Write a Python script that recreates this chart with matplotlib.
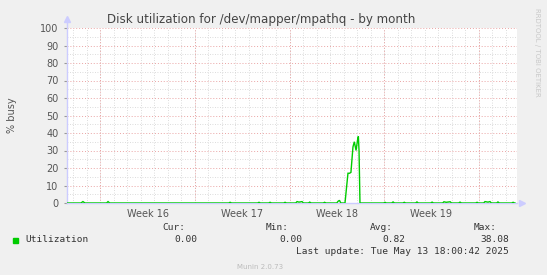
import numpy as np
import matplotlib
matplotlib.use("Agg")
import matplotlib.pyplot as plt

# time in days, 0 = start of week 16 (Monday)
day = [-2.48, -1.45, -1.3, -1.15, 0.45, 0.56, 0.68, 9.5, 9.6, 9.7, 11.64, 11.74, 11.84,
       12.46, 12.56, 12.66, 13.57, 13.67, 13.77, 14.46, 14.56, 14.7, 14.93, 15.03,
       15.4, 15.5, 15.6, 16.5, 16.6, 16.7, 17.5, 17.6, 17.7, 17.8, 18.11, 18.33, 18.45,
       18.55, 18.7, 18.8, 18.93, 19.04, 19.1, 19.15, 19.22, 20.97, 21.07, 21.17,
       21.57, 21.67, 21.77, 22.4, 22.5, 22.6, 23.34, 23.44, 23.54, 24.46, 24.56, 24.66,
       25.34, 25.44, 25.6, 25.9, 26.0, 26.53, 26.63, 26.73, 27.79, 27.89, 27.99,
       28.38, 28.48, 28.7, 28.85, 28.95, 29.34, 29.44, 29.54, 30.46, 30.56, 30.66, 30.7]
util = [0, 0, 0.8, 0, 0, 0.8, 0, 0, 0.4, 0, 0, 0.4, 0,
        0, 0.4, 0, 0, 0.4, 0, 0, 0.8, 0.5, 0.8, 0,
        0, 0.5, 0, 0, 0.4, 0, 0, 1.0, 1.5, 0, 0, 17, 17,
        17.5, 32, 35, 30, 36, 38.08, 30, 0, 0, 0.4, 0,
        0, 0.6, 0, 0, 0.4, 0, 0, 0.6, 0, 0, 0.5, 0,
        0, 0.7, 0.4, 0.7, 0, 0, 0.5, 0, 0, 0.4, 0,
        0, 0.8, 0.5, 0.8, 0, 0, 0.6, 0, 0, 0.4, 0, 0]

week_pos = [3.5, 10.5, 17.5, 24.5]
week_labels = ["Week 16", "Week 17", "Week 18", "Week 19"]
stats_head = ["Cur:", "Min:", "Avg:", "Max:"]
stats_vals = ["0.00", "0.00", "0.82", "38.08"]

W, H = 547, 275
fig = plt.figure(figsize=(W / 100, H / 100), dpi=100, facecolor="#f0f0f0")
ax = fig.add_axes([67 / W, (H - 203) / H, 450 / W, 175 / H])
ax.set_facecolor("white")
xmin, xmax = -2.48, 30.85
ax.set_xlim(xmin, xmax)
ax.set_ylim(0, 100)

# grid: minor gray dotted, major red dotted
for d in np.arange(-2, 31, 1):
    ax.axvline(d, color="#d0d0d0", lw=0.6, ls=(0, (1, 2)), zorder=1)
for y in range(5, 101, 10):
    ax.axhline(y, color="#d0d0d0", lw=0.6, ls=(0, (1, 2)), zorder=1)
for d in [0, 7, 14, 21, 28]:
    ax.axvline(d, color="#eaa4a4", lw=0.7, ls=(0, (1, 2)), zorder=2)
for y in range(10, 101, 10):
    ax.axhline(y, color="#eaa4a4", lw=0.7, ls=(0, (1, 2)), zorder=2)

ax.plot(day, util, color="#00cc00", lw=1.0, zorder=5, solid_joinstyle="miter")

for s in ax.spines.values():
    s.set_visible(False)
# axes lines with arrows
ax.plot([0, 0], [0, 1.04], transform=ax.transAxes, color="#ccccff", lw=1, clip_on=False, zorder=3)
ax.plot([0], [1.05], transform=ax.transAxes, marker="^", ms=4, color="#ccccff", clip_on=False)
ax.plot([0, 1.0], [0, 0], transform=ax.transAxes, color="#ccccff", lw=1, clip_on=False, zorder=3)
ax.plot([1.01], [0], transform=ax.transAxes, marker=">", ms=4, color="#ccccff", clip_on=False)

ax.set_yticks(range(0, 101, 10))
ax.set_yticklabels([str(v) for v in range(0, 101, 10)], fontsize=7, color="#555555")
ax.set_xticks(week_pos)
ax.set_xticklabels(week_labels, fontsize=7, color="#555555")
ax.tick_params(axis="y", length=2, color="#999999", pad=4)
ax.tick_params(axis="x", length=0, pad=4)

fig.text(261 / W, 1 - 19 / H, "Disk utilization for /dev/mapper/mpathq - by month",
         ha="center", va="center", fontsize=8.6, color="#444444")
fig.text(12 / W, 1 - 115 / H, "% busy", rotation=90, ha="center", va="center",
         fontsize=7, color="#555555")
fig.text(537 / W, 1 - 52 / H, "RRDTOOL / TOBI OETIKER", rotation=270, ha="center",
         va="center", fontsize=5, color="#c8c8c8")

mono = "DejaVu Sans Mono"
head_x = [185, 289, 393, 497]
val_x = [197, 302, 405, 509]
for hx, t in zip(head_x, stats_head):
    fig.text(hx / W, 1 - 228 / H, t, ha="right", va="center", fontsize=6.8,
             family=mono, color="#333333")
for vx, t in zip(val_x, stats_vals):
    fig.text(vx / W, 1 - 240 / H, t, ha="right", va="center", fontsize=6.8,
             family=mono, color="#333333")
fig.patches.append(plt.Rectangle((13 / W, 1 - 243 / H), 5 / W, 5 / H,
                                 transform=fig.transFigure, color="#00cc00"))
fig.text(25 / W, 1 - 240 / H, "Utilization", ha="left", va="center", fontsize=6.8,
         family=mono, color="#333333")
fig.text(509 / W, 1 - 252 / H, "Last update: Tue May 13 18:00:42 2025", ha="right",
         va="center", fontsize=6.8, family=mono, color="#333333")
fig.text(260 / W, 1 - 267 / H, "Munin 2.0.73", ha="center", va="center",
         fontsize=5, color="#bbbbbb")

fig.savefig("out.png", dpi=100, facecolor=fig.get_facecolor())
